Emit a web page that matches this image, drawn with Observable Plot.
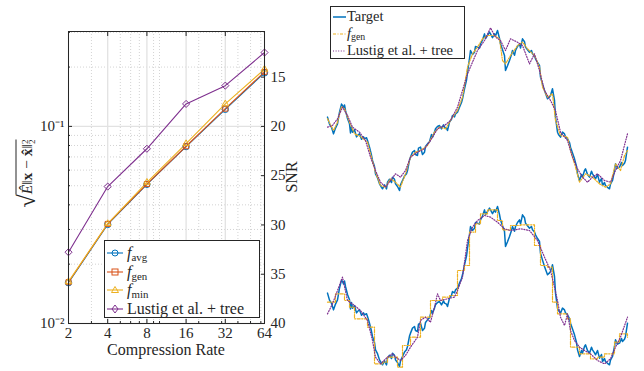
<!DOCTYPE html>
<html><head><meta charset="utf-8">
<script src="https://cdn.jsdelivr.net/npm/d3@7"></script>
<script src="https://cdn.jsdelivr.net/npm/@observablehq/plot@0.6"></script>
<style>
body{margin:0;background:#fff;}
#wrap{position:relative;width:644px;height:371px;overflow:hidden;font-family:"Liberation Serif",serif;color:#262626;}
.abs{position:absolute;}
.leg{position:absolute;background:#fff;border:1px solid #262626;box-sizing:border-box;}
.row{display:flex;align-items:center;white-space:nowrap;}
sub{font-size:68%;vertical-align:-0.25em;line-height:0;}
</style></head><body><div id="wrap"></div>
<script>
// ---------- left chart data ----------
const rates = [2, 4, 8, 16, 32, 64];
const fAvg = [0.0161, 0.0318, 0.0508, 0.0790, 0.122, 0.187];
const fGen = [0.0162, 0.0320, 0.0510, 0.0793, 0.123, 0.189];
const fMin = [0.0163, 0.0321, 0.0520, 0.0817, 0.130, 0.195];
const lustig = [0.0230, 0.0495, 0.0770, 0.130, 0.161, 0.237];
const seriesNames = ["favg", "fgen", "fmin", "lustig"];
const seriesColors = ["#0072BD", "#D95319", "#EDB120", "#7E2F8E"];
const seriesSymbols = ["circle", "square2", "triangle2", "diamond2"];
const xMinor = [3, 5, 6, 7, 9, 10, 20, 30, 40, 50, 60];
const yMajor = [0.01, 0.1];
const yMinor = [0.02, 0.03, 0.04, 0.05, 0.06, 0.07, 0.08, 0.09, 0.2, 0.3];
const snrTicks = [15, 20, 25, 30, 35, 40];

// ---------- right chart data (sample index, amplitude) ----------
const targetT = [0,2,4,6,8,10,12,14,15,16,17,18,20,22,23,24,25,27,29,30,32,34,36,37,39,40,42,44,45,47,48,50,52,54,55,57,59,60,62,64,65,67,68,70,72,73,75,77,79,80,82,83,85,87,88,90,91,93,95,97,98,100,102,104,105,107,108,110,112,114,116,117,119,120,122,124,125,127,128,130,132,134,135,137,139,140,142,143,145,147,148,150,152,153,155,157,158,160,162,163,165,167,168,170,172,173,175,177,178,180,182,184,185,187,188,190,192,193,195,197,198,200,202,204,205,207,208,210,212,213,215,217,219,220,222,223,225,227,228,230,231,233,235,237,238,240,242,243,245,247,249,250,252,254,255,257,258,260,262,264,265,267,268,270,272,274,275,277,278,280,282,283,285,287,288,290,292,294,295,297,298,300];
const targetV = [-0.083,-0.17,-0.21,-0.292,-0.22,-0.167,-0.02,0.08,0.063,0.03,0.07,0,-0.1,-0.167,-0.28,-0.2,-0.271,-0.24,-0.33,-0.313,-0.29,-0.36,-0.33,-0.354,-0.34,-0.375,-0.458,-0.56,-0.625,-0.7,-0.792,-0.84,-0.917,-0.96,-0.979,-0.93,-0.98,-0.896,-0.86,-0.9,-0.833,-0.86,-0.917,-0.95,-1.0,-0.93,-0.875,-0.82,-0.79,-0.75,-0.62,-0.583,-0.52,-0.5,-0.55,-0.5625,-0.47,-0.458,-0.55,-0.521,-0.45,-0.417,-0.39,-0.3,-0.333,-0.27,-0.229,-0.2,-0.188,-0.23,-0.18,-0.208,-0.22,-0.25,-0.146,-0.11,-0.063,-0.08,-0.042,-0.02,0.042,0.1,0.146,0.271,0.38,0.479,0.65,0.75,0.7,0.729,0.8,0.792,0.78,0.833,0.88,0.958,0.9,0.9375,0.98,0.958,0.91,0.958,0.93,1.0,0.9,0.833,0.76,0.6875,0.5,0.56,0.625,0.7,0.75,0.69,0.75,0.8,0.833,0.78,0.896,0.86,0.792,0.76,0.729,0.75,0.708,0.68,0.646,0.6,0.5625,0.417,0.33,0.25,0.18,0.146,0.17,0.1875,0.271,0.125,-0.083,-0.271,-0.3,-0.333,-0.27,-0.292,-0.33,-0.354,-0.4,-0.458,-0.53,-0.604,-0.7,-0.792,-0.875,-0.8,-0.833,-0.75,-0.729,-0.8,-0.833,-0.76,-0.792,-0.83,-0.854,-0.8,-0.896,-0.85,-0.9375,-0.9,-0.9375,-0.96,-0.979,-0.92,-0.875,-0.75,-0.667,-0.72,-0.708,-0.65,-0.6875,-0.66,-0.625,-0.458];

const genTopT = [0,6,10,14,17,22,27,33,40,43,48,53,58,63,68,73,78,83,88,93,100,107,112,118,125,130,135,140,145,150,155,160,167,172,175,178,183,190,195,200,207,212,215,220,225,228,233,240,243,248,252,258,265,272,278,283,288,293,297,300];
const genTopV = [-0.104,-0.25,-0.146,0.05,0.021,-0.146,-0.292,-0.325,-0.396,-0.542,-0.771,-0.938,-0.958,-0.854,-0.896,-0.958,-0.792,-0.583,-0.521,-0.5,-0.4375,-0.271,-0.208,-0.229,-0.083,0,0.167,0.542,0.708,0.792,0.896,0.9375,0.9375,0.896,0.625,0.583,0.6875,0.8125,0.854,0.771,0.6875,0.542,0.292,0.167,0.208,-0.125,-0.3125,-0.333,-0.5,-0.708,-0.896,-0.792,-0.833,-0.917,-0.958,-0.917,-0.667,-0.75,-0.5625,-0.5];

const lusTopT = [0,5,10,15,20,25,32,38,43,48,53,58,63,68,73,78,83,90,97,103,110,117,123,130,135,140,145,150,157,163,168,173,178,183,190,195,202,207,212,217,223,228,233,240,245,250,255,260,265,270,277,283,288,293,300];
const lusTopV = [-0.208,-0.1875,-0.104,0.042,-0.0625,-0.208,-0.271,-0.375,-0.583,-0.75,-0.896,-0.958,-0.875,-0.792,-0.833,-0.75,-0.583,-0.521,-0.479,-0.375,-0.229,-0.1875,-0.125,0.042,0.25,0.458,0.604,0.75,0.875,1.033,0.917,0.875,0.75,0.896,0.854,0.8125,0.583,0.708,0.5,0.25,0.125,0,-0.271,-0.375,-0.583,-0.729,-0.833,-0.896,-0.833,-0.792,-0.875,-0.896,-0.75,-0.625,-0.292];

const genBotT = [0,8,17,22,27,40,47,55,60,70,75,83,93,103,115,122,130,137,142,148,153,160,170,175,183,193,207,213,220,225,230,240,243,252,263,270,277,287,292,300];
const genBotV = [-0.196,-0.092,-0.175,-0.258,-0.404,-0.508,-0.967,-0.946,-0.883,-1.008,-0.7375,-0.633,-0.383,-0.175,-0.133,-0.1125,0.2,0.2625,0.679,0.783,0.908,0.958,0.825,0.708,0.7625,0.771,0.5125,0.2625,0.242,-0.196,-0.342,-0.404,-0.758,-0.842,-0.904,-0.883,-0.842,-0.696,-0.592,-0.633];

const lusBotT = [0,5,10,15,20,27,33,40,45,48,53,60,65,68,73,78,83,90,93,98,103,107,110,113,120,127,130,135,140,145,150,157,163,170,177,183,193,202,210,217,223,227,230,233,237,240,243,247,252,257,263,270,277,283,288,293,300];
const lusBotV = [-0.342,-0.217,-0.05,0.117,-0.175,-0.2375,-0.3,-0.425,-0.675,-0.883,-0.967,-0.883,-0.842,-0.883,-0.925,-0.8625,-0.758,-0.633,-0.425,-0.383,-0.446,-0.258,-0.092,-0.175,-0.154,-0.133,-0.05,0.117,0.575,0.742,0.825,0.8875,0.867,0.804,0.721,0.7,0.721,0.7,0.575,0.367,0.2,-0.008,-0.175,-0.383,-0.4875,-0.342,-0.55,-0.675,-0.758,-0.8,-0.842,-0.925,-0.967,-0.904,-0.758,-0.633,-0.383];

// ---------- build ----------
const wrap = document.getElementById("wrap");
const seriesVals = {favg: fAvg, fgen: fGen, fmin: fMin, lustig: lustig};
const rows = seriesNames.flatMap(n => rates.map((r, i) => ({name: n, rate: r, err: seriesVals[n][i]})));
const font = "Liberation Serif, serif";

const left = Plot.plot({
  width: 320, height: 371,
  marginLeft: 68, marginRight: 56, marginTop: 31, marginBottom: 48,
  style: {fontFamily: font, fontSize: "15px", color: "#262626", background: "transparent", overflow: "visible"},
  x: {type: "log", base: 2, domain: [2, 64], axis: null},
  y: {type: "log", domain: [0.01, 0.303], axis: null},
  color: {domain: seriesNames, range: seriesColors},
  symbol: {domain: seriesNames, range: seriesSymbols},
  marks: [
    Plot.ruleX(xMinor, {stroke: "#c8c8c8", strokeDasharray: "1,2", strokeWidth: 0.8}),
    Plot.ruleY(yMinor, {stroke: "#c8c8c8", strokeDasharray: "1,2", strokeWidth: 0.8}),
    Plot.ruleX(rates, {stroke: "#e2e2e2", strokeWidth: 1.3}),
    Plot.ruleY(yMajor, {stroke: "#e2e2e2", strokeWidth: 1.3}),
    Plot.line(rows, {x: "rate", y: "err", z: "name", stroke: "name", strokeWidth: 1.1}),
    Plot.dot(rows, {x: "rate", y: "err", stroke: "name", symbol: "name", r: 3.2, fill: "none", strokeWidth: 1}),
    Plot.frame({stroke: "#262626", strokeWidth: 1}),
    Plot.axisX(rates, {anchor: "bottom", tickSize: -4, tickPadding: 8, tickFormat: d => String(d), fontSize: 15, label: null}),
    Plot.axisX(rates, {anchor: "top", tickSize: -4, tickFormat: () => "", label: null}),
    Plot.axisX(xMinor, {anchor: "bottom", tickSize: -2, tickFormat: () => "", label: null}),
    Plot.axisY(yMajor, {anchor: "left", tickSize: -4, tickPadding: 8, tickFormat: d => d === 0.1 ? "10\u207B\u00B9" : "10\u207B\u00B2", fontSize: 15, label: null}),
    Plot.axisY(yMinor, {anchor: "left", tickSize: -2, tickFormat: () => "", label: null}),
    Plot.axisY(snrTicks.map(s => Math.pow(10, -s / 20)), {anchor: "right", tickSize: -4, tickPadding: 10, tickFormat: d => String(Math.round(-20 * Math.log10(d))), fontSize: 15, label: null})
  ]
});
left.style.position = "absolute"; left.style.left = "0px"; left.style.top = "0px";
wrap.appendChild(left);

function panel(genT, genV, genCurve, lusT, lusV, top) {
  const tgt = targetT.map((t, i) => ({t, v: targetV[i]}));
  const gen = genT.map((t, i) => ({t, v: genV[i]}));
  const lus = lusT.map((t, i) => ({t, v: lusV[i]}));
  const p = Plot.plot({
    width: 324, height: 195,
    marginLeft: 7, marginRight: 17, marginTop: 30, marginBottom: 5,
    style: {background: "transparent", overflow: "visible"},
    x: {domain: [0, 300], axis: null},
    y: {domain: [-1, 1], axis: null},
    marks: [
      Plot.line(tgt, {x: "t", y: "v", stroke: "#0072BD", strokeWidth: 1.5}),
      Plot.line(gen, {x: "t", y: "v", stroke: "#EDB120", strokeWidth: 1.2, strokeDasharray: "3,1.5,1,1.5", curve: genCurve}),
      Plot.line(lus, {x: "t", y: "v", stroke: "#7E2F8E", strokeWidth: 1.2, strokeDasharray: "1,1.6"})
    ]
  });
  p.style.position = "absolute"; p.style.left = "320px"; p.style.top = top + "px";
  wrap.appendChild(p);
}
panel(genTopT, genTopV, "linear", lusTopT, lusTopV, 0);
panel(genBotT, genBotV, "step-after", lusBotT, lusBotV, 176);

// ---------- HTML text & legends ----------
function add(html, css) {
  const d = document.createElement("div");
  d.className = "abs"; d.innerHTML = html; d.style.cssText += css;
  wrap.appendChild(d); return d;
}
add("Compression Rate", "left:68px;width:196px;top:342px;line-height:16px;text-align:center;font-size:16px;");
add("SNR", "left:272px;top:168px;width:40px;text-align:center;font-size:16px;transform:rotate(-90deg);");
add('<span style="font-size:24px;vertical-align:-3px">\u221A</span><span style="border-top:1px solid #262626;padding-top:1px;"><i>\u00CA</i>\u2016<b>x</b> \u2212 <b>x\u0302</b>\u2016<span style="display:inline-block;vertical-align:-0.35em;line-height:0.8;font-size:9px;text-align:left;">2<br>2</span></span>',
  "left:-38px;top:160px;width:130px;text-align:center;font-size:15.5px;transform:rotate(-90deg);white-space:nowrap;");

const icon = {
  favg: '<circle cx="9" cy="6" r="3" fill="none" stroke="#0072BD"/>',
  fgen: '<rect x="6" y="3" width="6" height="6" fill="none" stroke="#D95319"/>',
  fmin: '<path d="M9,2.5L12.5,8.5L5.5,8.5Z" fill="none" stroke="#EDB120"/>',
  lustig: '<path d="M9,2L12,6L9,10L6,6Z" fill="none" stroke="#7E2F8E"/>'
};
const labelsL = {
  favg: '<i>f</i><sub>avg</sub>', fgen: '<i>f</i><sub>gen</sub>', fmin: '<i>f</i><sub>min</sub>', lustig: 'Lustig et al. + tree'
};
const lg = document.createElement("div");
lg.className = "leg";
lg.style.cssText += "left:104px;top:240px;width:156px;height:78px;padding:3px 0 0 1px;font-size:16px;";
lg.innerHTML = seriesNames.map((n, i) =>
  `<div class="row" style="height:18.5px"><svg width="19" height="12"><line x1="1" y1="6" x2="17" y2="6" stroke="${seriesColors[i]}" stroke-width="1.1"/>${icon[n]}</svg><span style="margin-left:2px">${labelsL[n]}</span></div>`
).join("");
wrap.appendChild(lg);

const lg2 = document.createElement("div");
lg2.className = "leg";
lg2.style.cssText += "left:330px;top:6px;width:135px;height:53px;padding:1px 0 0 1px;font-size:14.5px;";
lg2.innerHTML =
  `<div class="row" style="height:17px"><svg width="15" height="10"><line x1="1" y1="5" x2="14" y2="5" stroke="#0072BD" stroke-width="1.5"/></svg><span>Target</span></div>` +
  `<div class="row" style="height:17px"><svg width="15" height="10"><line x1="1" y1="5" x2="14" y2="5" stroke="#EDB120" stroke-width="1.2" stroke-dasharray="3,1.5,1,1.5"/></svg><span><i>f</i><sub>gen</sub></span></div>` +
  `<div class="row" style="height:17px"><svg width="15" height="10"><line x1="1" y1="5" x2="14" y2="5" stroke="#7E2F8E" stroke-width="1.2" stroke-dasharray="1,1.6"/></svg><span>Lustig et al. + tree</span></div>`;
wrap.appendChild(lg2);
</script></body></html>
